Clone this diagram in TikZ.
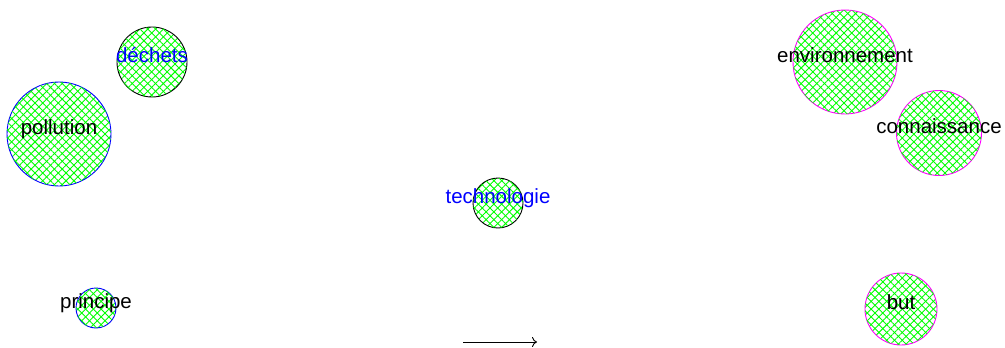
\documentclass[tikz,border=0pt]{standalone}
\usepackage{fontspec}
\setmainfont{Liberation Sans}
\usetikzlibrary{patterns.meta,arrows.meta}
\definecolor{hatchgreen}{HTML}{00FF00}
\definecolor{termblue}{HTML}{0000FF}
\definecolor{termpink}{HTML}{FF00FF}
\tikzset{
  term/.style={circle,draw,line width=.9pt,inner sep=0pt,
    pattern={Lines[angle=45,distance=5.5pt,line width=.9pt]},pattern color=hatchgreen,
    postaction={pattern={Lines[angle=-45,distance=5.5pt,line width=.9pt]},pattern color=hatchgreen}},
  blueterm/.style={term,draw=termblue},
  pinkterm/.style={term,draw=termpink},
  darkterm/.style={term,draw=black},
  word/.style={inner sep=0pt,text height=10pt,text depth=0pt,yshift=5pt,
    font=\fontsize{20.5}{22}\selectfont},
  edge/.style={-{To[length=5pt,width=10pt]},line width=.9pt}
}
\begin{document}
\begin{tikzpicture}[x=1pt,y=-1pt]
  \useasboundingbox (0,0) rectangle (1005,348);

  \node[darkterm,minimum size=70pt,label={[word,termblue]center:déchets}] (dechets) at (152,62) {};
  \node[blueterm,minimum size=104pt,label={[word]center:pollution}] (pollution) at (59,134) {};
  \node[darkterm,minimum size=50pt,label={[word,termblue]center:technologie}] (technologie) at (498,203) {};
  \node[blueterm,minimum size=40pt,label={[word]center:principe}] (principe) at (96,308) {};
  \node[pinkterm,minimum size=104pt,label={[word]center:environnement}] (environnement) at (845,62) {};
  \node[pinkterm,minimum size=85pt,label={[word]center:connaissance}] (connaissance) at (939,133) {};
  \node[pinkterm,minimum size=72pt,label={[word]center:but}] (but) at (901,309) {};

  \coordinate (tail) at (463,342);
  \coordinate (head) at (537,342);
  \draw[edge] (tail) -- (head);
\end{tikzpicture}
\end{document}
